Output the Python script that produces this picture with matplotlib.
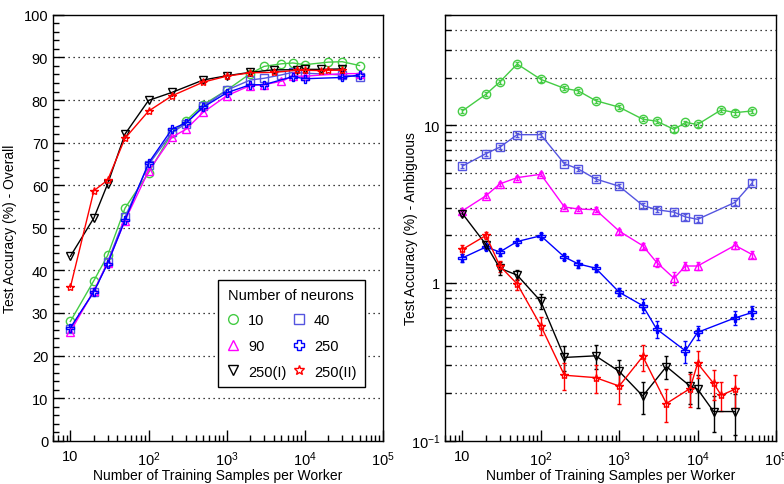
import matplotlib
matplotlib.use("Agg")
import matplotlib.pyplot as plt
import numpy as np
from matplotlib.lines import Line2D
from matplotlib.ticker import FixedLocator, FixedFormatter, MultipleLocator, LogLocator, NullFormatter

plt.rcParams['font.family'] = ['Liberation Sans', 'DejaVu Sans']
plt.rcParams['mathtext.fontset'] = 'custom'
plt.rcParams['mathtext.rm'] = 'Liberation Sans'
plt.rcParams['mathtext.it'] = 'Liberation Sans:italic'

# ---------------- data ----------------
x_std = [10, 20, 30, 50, 100, 200, 300, 500, 1000, 2000, 3000, 5000, 7000, 10000, 20000, 30000, 50000]
x_40 = [10, 20, 30, 50, 100, 200, 300, 500, 1000, 2000, 3000, 5000, 7000, 10000, 30000, 50000]
x_90 = [10, 20, 30, 50, 100, 200, 300, 500, 1000, 2000, 3000, 5000, 7000, 10000, 30000, 50000]
x_250 = [10, 20, 30, 50, 100, 200, 300, 500, 1000, 2000, 3000, 7000, 10000, 30000, 50000]
x_250i = [10, 20, 30, 50, 100, 200, 500, 1000, 2000, 4000, 8000, 10000, 16000, 30000]
x_250ii = [10, 20, 30, 50, 100, 200, 500, 1000, 2000, 4000, 8000, 10000, 16000, 20000, 30000]

# overall accuracy (%)
ov_10 = [28.0, 37.6, 43.5, 54.6, 62.9, 72.3, 75.1, 78.9, 82.3, 86.2, 87.9, 88.5, 88.7, 88.3, 88.9, 89.0, 88.1]
ov_40 = [26.3, 35.0, 42.0, 52.5, 64.8, 72.4, 74.4, 78.5, 82.3, 84.7, 85.1, 85.9, 86.5, 86.3, 85.9, 85.4]
ov_90 = [25.6, 35.2, 41.7, 51.7, 63.3, 71.3, 73.1, 77.1, 81.0, 83.4, 83.6, 84.4, 85.6, 85.6, 86.2, 86.2]
ov_250 = [26.5, 35.0, 41.6, 51.8, 65.2, 73.2, 74.6, 78.3, 81.7, 83.6, 83.6, 85.5, 85.0, 85.3, 85.9]
ov_250i = [43.3, 52.3, 60.3, 72.0, 79.9, 81.8, 84.7, 85.7, 86.5, 87.1, 87.1, 87.2, 87.2, 87.3]
ov_250ii = [36.0, 58.7, 61.2, 71.0, 77.4, 81.0, 84.2, 85.6, 86.4, 86.5, 87.0, 87.0, 86.9, 87.0, 87.0]

# ambiguous accuracy (%) and errors
am_10 = [12.3, 15.7, 18.8, 24.4, 19.5, 17.1, 16.5, 14.3, 13.0, 10.9, 10.6, 9.4, 10.4, 10.1, 12.5, 12.0, 12.3]
er_10 = [0.4, 0.5, 0.6, 0.8, 0.6, 0.5, 0.5, 0.4, 0.4, 0.3, 0.3, 0.3, 0.3, 0.3, 0.4, 0.4, 0.4]
am_40 = [5.5, 6.6, 7.25, 8.7, 8.7, 5.7, 5.28, 4.56, 4.1, 3.1, 2.91, 2.81, 2.62, 2.53, 3.24, 4.32]
er_40 = [0.15, 0.2, 0.2, 0.25, 0.25, 0.15, 0.15, 0.13, 0.12, 0.1, 0.1, 0.1, 0.1, 0.1, 0.12, 0.15]
am_90 = [2.86, 3.57, 4.24, 4.65, 4.88, 3.03, 2.94, 2.91, 2.13, 1.72, 1.35, 1.07, 1.28, 1.28, 1.73, 1.51]
er_90 = [0.1, 0.12, 0.12, 0.13, 0.13, 0.1, 0.1, 0.1, 0.08, 0.08, 0.08, 0.1, 0.08, 0.08, 0.08, 0.08]
am_250 = [1.44, 1.69, 1.57, 1.83, 1.99, 1.46, 1.32, 1.24, 0.873, 0.717, 0.51, 0.371, 0.486, 0.60, 0.65]
er_250 = [0.08, 0.08, 0.08, 0.08, 0.08, 0.07, 0.07, 0.06, 0.05, 0.07, 0.065, 0.06, 0.05, 0.06, 0.06]
am_250i = [2.75, 1.75, 1.24, 1.12, 0.765, 0.337, 0.345, 0.275, 0.192, 0.295, 0.222, 0.212, 0.153, 0.153]
er_250i = [0.1, 0.1, 0.12, 0.08, 0.08, 0.06, 0.06, 0.05, 0.045, 0.05, 0.05, 0.05, 0.04, 0.045]
am_250ii = [1.63, 2.0, 1.28, 0.985, 0.535, 0.26, 0.251, 0.222, 0.342, 0.172, 0.214, 0.309, 0.231, 0.194, 0.212]
er_250ii = [0.1, 0.1, 0.1, 0.08, 0.07, 0.05, 0.05, 0.05, 0.065, 0.04, 0.05, 0.06, 0.05, 0.04, 0.05]

labels = ["10", "40", "90", "250", "250(I)", "250(II)"]
colors = ["#44cc44", "#5555e0", "#ff00ff", "#0000ff", "#000000", "#ff0000"]
markers = ["o", "s", "^", "P", "v", "*"]
xs = [x_std, x_40, x_90, x_250, x_250i, x_250ii]
overall = [ov_10, ov_40, ov_90, ov_250, ov_250i, ov_250ii]
ambig = [am_10, am_40, am_90, am_250, am_250i, am_250ii]
errs = [er_10, er_40, er_90, er_250, er_250i, er_250ii]

fig = plt.figure(figsize=(7.84, 4.85), dpi=100)
ax1 = fig.add_axes([0.0676, 0.0893, 0.421, 0.878])
ax2 = fig.add_axes([0.5676, 0.0893, 0.4222, 0.878])

ms = 6
for x, y, c, m in zip(xs, overall, colors, markers):
    ax1.plot(x, y, color=c, marker=m, mfc="none", mec=c, ms=ms, lw=1, mew=1)

for x, y, e, c, m in zip(xs, ambig, errs, colors, markers):
    ax2.errorbar(x, y, yerr=e, color=c, marker=m, mfc="none", mec=c, ms=ms, lw=1,
                 mew=1, elinewidth=1, capsize=1.5)

xticks = [10, 100, 1000, 10000, 100000]
xtlabels = ["10", "$10^{2}$", "$10^{3}$", "$10^{4}$", "$10^{5}$"]
for ax in (ax1, ax2):
    ax.set_xscale("log")
    ax.set_xlim(6, 1e5)
    ax.xaxis.set_major_locator(FixedLocator(xticks))
    ax.xaxis.set_major_formatter(FixedFormatter(xtlabels))
    ax.xaxis.set_minor_locator(LogLocator(base=10, subs=np.arange(2, 10)))
    ax.xaxis.set_minor_formatter(NullFormatter())
    ax.tick_params(which="major", direction="in", length=8, width=1, labelsize=10.5)
    ax.tick_params(which="minor", direction="in", length=4, width=1)
    ax.tick_params(axis="x", pad=6)
    ax.set_xlabel("Number of Training Samples per Worker", fontsize=10, labelpad=0)
    for s in ax.spines.values():
        s.set_linewidth(1)

# left panel
ax1.set_ylim(0, 100)
ax1.yaxis.set_major_locator(MultipleLocator(10))
ax1.yaxis.set_minor_locator(MultipleLocator(2))
for v in range(10, 100, 10):
    ax1.axhline(v, color="black", lw=0.9, ls=(0, (1, 3)), zorder=0)
ax1.set_ylabel("Test Accuracy (%) - Overall", fontsize=10)
ax1.yaxis.set_label_coords(-0.109, 0.5)

handles = []
for i in [0, 2, 4, 1, 3, 5]:
    handles.append(Line2D([], [], ls="none", marker=markers[i], mfc="none",
                          mec=colors[i], ms=7, mew=1, label=labels[i]))
leg = ax1.legend(handles=handles, ncol=2, title="Number of neurons", loc="lower left",
                 bbox_to_anchor=(0.5, 0.127), borderaxespad=0,
                 fontsize=10.5, title_fontsize=10.5, fancybox=False, edgecolor="black",
                 framealpha=1, borderpad=0.55, labelspacing=0.8, handlelength=0.9,
                 handletextpad=0.6, columnspacing=0.4)
leg.get_frame().set_linewidth(1)

# right panel
ax2.set_yscale("log")
ax2.set_ylim(0.1, 50)
ax2.yaxis.set_major_locator(FixedLocator([0.1, 1, 10]))
ax2.yaxis.set_major_formatter(FixedFormatter(["$10^{-1}$", "1", "10"]))
ax2.yaxis.set_minor_locator(LogLocator(base=10, subs=np.arange(2, 10)))
ax2.yaxis.set_minor_formatter(NullFormatter())
grid_vals = [d * m for d in (0.1, 1, 10) for m in range(1, 10) if 0.1 < d * m < 50]
for v in grid_vals:
    ax2.axhline(v, color="black", lw=0.9, ls=(0, (1, 3)), zorder=0)
ax2.set_ylabel("Test Accuracy (%) - Ambiguous", fontsize=10)
ax2.yaxis.set_label_coords(-0.082, 0.5)

fig.savefig("out.png", dpi=100)
